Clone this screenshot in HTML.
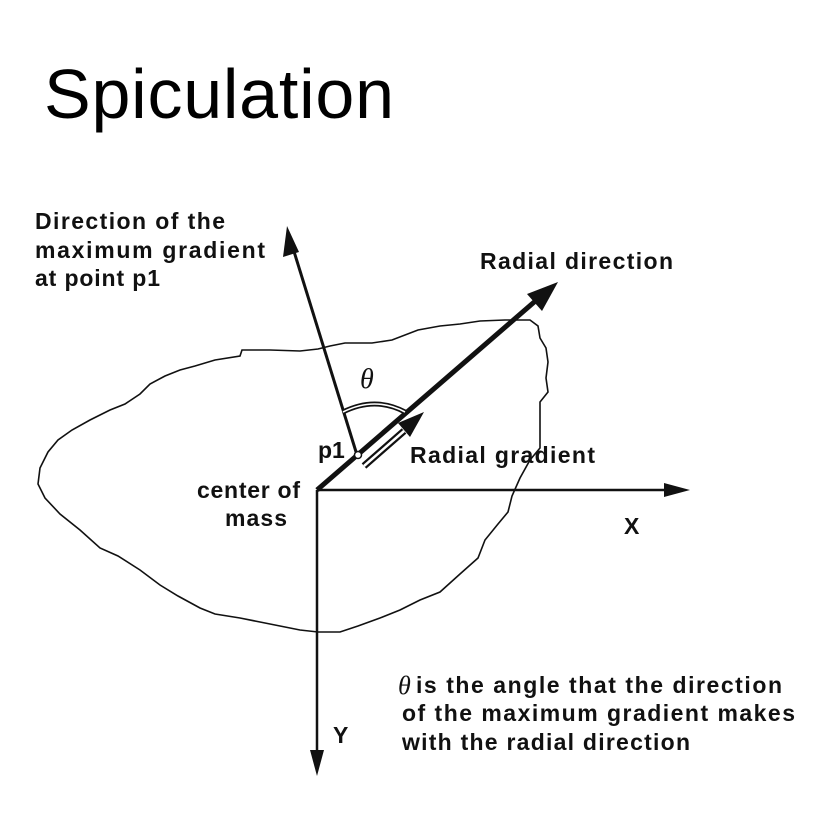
<!DOCTYPE html>
<html><head><style>
html,body{margin:0;padding:0;background:#fff;}
svg{display:block;}
text{font-family:"Liberation Sans",Arial,sans-serif;fill:#111;}
.l{font-size:23px;font-weight:bold;}
</style></head><body>
<svg width="838" height="816" viewBox="0 0 838 816" xmlns="http://www.w3.org/2000/svg">
<text x="44" y="118" textLength="350" style="font-size:70px;fill:#000">Spiculation</text>

<path d="M240,356 L242,350 L270,350 L300,351 L318,349 L330,346 L345,343 L372,343 L392,340 L418,330 L440,326 L460,324 L480,321 L505,320 L530,320 L538,326 L540,338 L546,348 L548,362 L546,378 L548,392 L540,402 L540,430 L540,448 L530,460 L520,478 L512,496 L508,512 L498,524 L485,540 L478,558 L460,574 L440,592 L420,600 L400,610 L380,618 L358,626 L340,632 L318,632 L300,630 L280,626 L260,622 L240,618 L215,614 L200,608 L178,596 L160,585 L140,570 L118,556 L100,548 L80,530 L60,514 L45,498 L38,484 L40,468 L48,452 L58,440 L72,430 L90,420 L110,410 L125,404 L140,394 L150,384 L165,376 L180,370 L195,366 L215,360 Z" fill="none" stroke="#111" stroke-width="1.6"/>

<line x1="317" y1="490" x2="670" y2="490" stroke="#111" stroke-width="2.5"/>
<polygon points="690,490 664,483 664,497" fill="#111"/>
<line x1="317" y1="490" x2="317" y2="755" stroke="#111" stroke-width="2.5"/>
<polygon points="317,776 310,750 324,750" fill="#111"/>

<line x1="317" y1="490" x2="540" y2="297" stroke="#111" stroke-width="5"/>
<polygon points="558,282 527,294 542,311" fill="#111"/>

<line x1="357" y1="455" x2="292" y2="245" stroke="#111" stroke-width="3"/>
<polygon points="287,226 283,257 299,252" fill="#111"/>

<path d="M364,466 L404,431" stroke="#111" stroke-width="7" fill="none"/>
<path d="M364,466 L404,431" stroke="#fff" stroke-width="2.5" fill="none"/>
<polygon points="424,412 398,423 410,437" fill="#111"/>

<path d="M343,412 Q375,396 405,412" fill="none" stroke="#111" stroke-width="5"/>
<path d="M343,412 Q375,396 405,412" fill="none" stroke="#fff" stroke-width="1.6"/>

<circle cx="358" cy="455" r="3.5" fill="#fff" stroke="#111" stroke-width="1.5"/>

<text x="360" y="388" style="font-family:'Liberation Serif',serif;font-style:italic;font-size:28px">θ</text>

<text class="l" x="35" y="229" textLength="190">Direction of the</text>
<text class="l" x="35" y="258" textLength="230">maximum gradient</text>
<text class="l" x="35" y="286" textLength="125">at point p1</text>
<text class="l" x="480" y="269" textLength="193">Radial direction</text>
<text class="l" x="318" y="458">p1</text>
<text class="l" x="410" y="463" textLength="185">Radial gradient</text>
<text class="l" x="197" y="498" textLength="103">center of</text>
<text class="l" x="225" y="526" textLength="62">mass</text>
<text class="l" x="624" y="534">X</text>
<text class="l" x="333" y="743">Y</text>

<text x="398" y="694" style="font-family:'Liberation Serif',serif;font-style:italic;font-size:26px">θ</text>
<text class="l" x="416" y="693" textLength="366">is the angle that the direction</text>
<text class="l" x="402" y="721" textLength="393">of the maximum gradient makes</text>
<text class="l" x="402" y="750" textLength="288">with the radial direction</text>
</svg>
</body></html>
